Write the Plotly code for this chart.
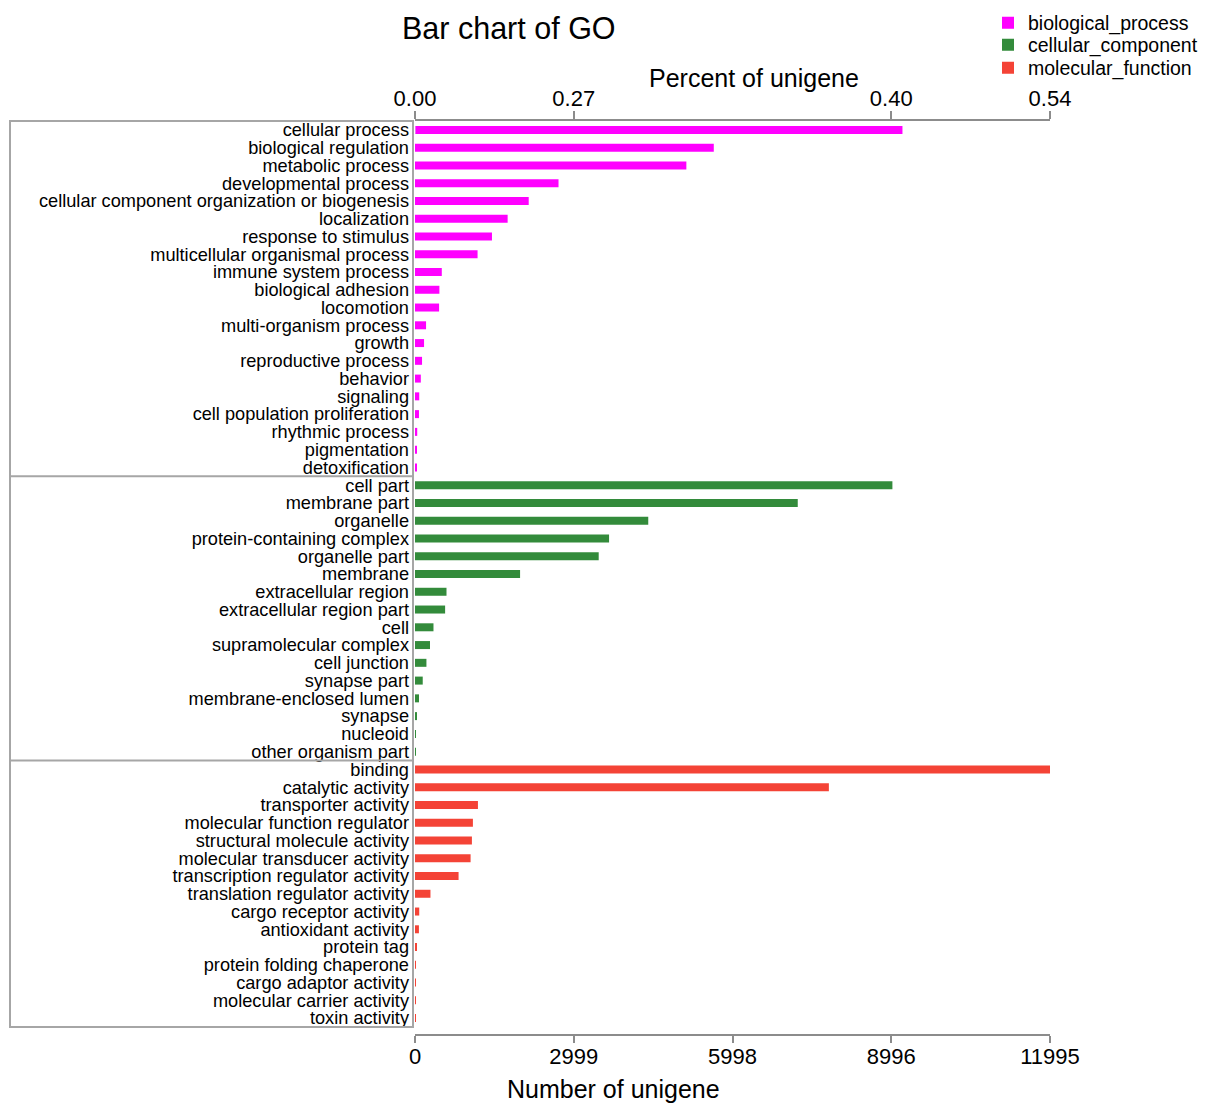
import plotly.graph_objects as go

# ---------------- data ----------------
bp_terms = ["cellular process", "biological regulation", "metabolic process", "developmental process",
            "cellular component organization or biogenesis", "localization", "response to stimulus",
            "multicellular organismal process", "immune system process", "biological adhesion",
            "locomotion", "multi-organism process", "growth", "reproductive process", "behavior",
            "signaling", "cell population proliferation", "rhythmic process", "pigmentation",
            "detoxification"]
bp_counts = [9208, 5644, 5126, 2711, 2148, 1750, 1454, 1182, 506, 461,
             455, 209, 171, 133, 110, 80, 75, 42, 24, 22]

cc_terms = ["cell part", "membrane part", "organelle", "protein-containing complex", "organelle part",
            "membrane", "extracellular region", "extracellular region part", "cell",
            "supramolecular complex", "cell junction", "synapse part", "membrane-enclosed lumen",
            "synapse", "nucleoid", "other organism part"]
cc_counts = [9018, 7230, 4406, 3666, 3470, 1985, 595, 569, 349, 284, 216, 146, 76, 38, 4, 2]

mf_terms = ["binding", "catalytic activity", "transporter activity", "molecular function regulator",
            "structural molecule activity", "molecular transducer activity",
            "transcription regulator activity", "translation regulator activity",
            "cargo receptor activity", "antioxidant activity", "protein tag",
            "protein folding chaperone", "cargo adaptor activity", "molecular carrier activity",
            "toxin activity"]
mf_counts = [11995, 7818, 1189, 1094, 1075, 1050, 823, 292, 80, 74, 36, 14, 10, 8, 4]

group_names = ["biological_process", "cellular_component", "molecular_function"]
group_colors = ["#ff00ff", "#338b3b", "#f44336"]

count_ticks = [0, 2999, 5998, 8996, 11995]
percent_tickvals = [0, 2999, 8996, 11995]
percent_ticktext = ["0.00", "0.27", "0.40", "0.54"]

# ---------------- figure ----------------
FONT = "Liberation Sans, Arial, Helvetica, sans-serif"
W, H = 1205, 1105
ML, MR, MT, MB = 415, 155, 121, 70
PW = W - ML - MR

all_terms = bp_terms + cc_terms + mf_terms
n = len(all_terms)
plot_h = H - MT - MB
y_bottom_px = 1027  # bottom of the category area
d0 = (H - MB - y_bottom_px) / plot_h


def px_to_py(py):
    return (H - MB - py) / plot_h


def px_to_px(px):
    return (px - ML) / PW


fig = go.Figure()
legend_ids = ["legend", "legend2", "legend3"]
for name, terms, counts, col, lg in zip(group_names, [bp_terms, cc_terms, mf_terms],
                                        [bp_counts, cc_counts, mf_counts], group_colors, legend_ids):
    fig.add_trace(go.Bar(
        x=counts, y=terms, orientation="h", name=name,
        marker=dict(color=col, line=dict(width=0)), width=0.45,
        xaxis="x", yaxis="y", legend=lg,
    ))

# helper trace to carry the top (percent) axis
fig.add_trace(go.Bar(x=[0], y=[all_terms[0]], orientation="h", xaxis="x2", yaxis="y",
                     showlegend=False, hoverinfo="skip", marker=dict(color="rgba(0,0,0,0)"),
                     width=0.45))


def ypaper(c):
    # category coordinate -> paper coordinate
    return d0 + (1 - d0) * ((n - 0.5) - c) / n


shapes = []
frame_x0 = px_to_px(10)
frame_x1 = px_to_px(413)
bounds = [-0.5, len(bp_terms) - 0.5, len(bp_terms) + len(cc_terms) - 0.5, n - 0.5]
shapes.append(dict(type="rect", xref="paper", yref="paper", x0=frame_x0, x1=frame_x1,
                   y0=ypaper(bounds[-1]), y1=ypaper(bounds[0]),
                   line=dict(color="#a6a6a6", width=2), layer="above"))
for b in bounds[1:-1]:
    shapes.append(dict(type="line", xref="paper", yref="paper", x0=frame_x0, x1=frame_x1,
                       y0=ypaper(b), y1=ypaper(b), line=dict(color="#a6a6a6", width=2)))

annotations = [
    dict(text="Percent of unigene", xref="paper", yref="paper",
         x=px_to_px(754), y=px_to_py(78),
         xanchor="center", yanchor="middle", showarrow=False,
         font=dict(family=FONT, size=25, color="black")),
    dict(text="Number of unigene", xref="paper", yref="paper",
         x=px_to_px(613), y=px_to_py(1089),
         xanchor="center", yanchor="middle", showarrow=False,
         font=dict(family=FONT, size=25, color="black")),
]

axis_line = "#8c8c8c"
legend_y_px = [23, 45, 68]
leg_common = dict(xanchor="left", yanchor="middle", xref="container", yref="container",
                  bgcolor="rgba(0,0,0,0)",
                  font=dict(family=FONT, size=19.5, color="black"), itemclick=False,
                  borderwidth=0)
legends = {}
for lg, ypx in zip(legend_ids, legend_y_px):
    legends[lg] = dict(x=988 / W, y=1 - ypx / H, **leg_common)

fig.update_layout(
    width=W, height=H,
    margin=dict(l=ML, r=MR, t=MT, b=MB, pad=0, autoexpand=False),
    paper_bgcolor="white", plot_bgcolor="white",
    font=dict(family=FONT, color="black"),
    barmode="overlay",
    title=dict(text="Bar chart of GO", xref="container", yref="container",
               x=402 / W, xanchor="left", y=1 - 28 / H, yanchor="middle",
               font=dict(family=FONT, size=30.5, color="black")),
    xaxis=dict(range=[0, 11995], tickvals=count_ticks, ticktext=[str(v) for v in count_ticks],
               anchor="free", position=0, side="bottom",
               showgrid=False, zeroline=False, showline=True, linecolor=axis_line, linewidth=2,
               ticks="outside", ticklen=7, tickwidth=2, tickcolor=axis_line,
               ticklabelstandoff=-5,
               tickfont=dict(family=FONT, size=22, color="black")),
    xaxis2=dict(range=[0, 11995], overlaying="x", side="top", anchor="y",
                tickvals=percent_tickvals, ticktext=percent_ticktext,
                showgrid=False, zeroline=False, showline=True, linecolor=axis_line, linewidth=2,
                ticks="outside", ticklen=8, tickwidth=2, tickcolor=axis_line,
                ticklabelstandoff=-4,
                tickfont=dict(family=FONT, size=22, color="black")),
    yaxis=dict(domain=[d0, 1], type="category", categoryorder="array", categoryarray=all_terms,
               tickmode="array", tickvals=all_terms, ticktext=all_terms,
               range=[n - 0.5, -0.5], showgrid=False, zeroline=False, showline=False,
               ticks="", ticklabelstandoff=5,
               tickfont=dict(family=FONT, size=18.2, color="black")),
    shapes=shapes,
    annotations=annotations,
    showlegend=True,
    **legends,
)

fig.write_html("out.html", post_script="document.body.style.margin='0';",
               config={"displayModeBar": False})
